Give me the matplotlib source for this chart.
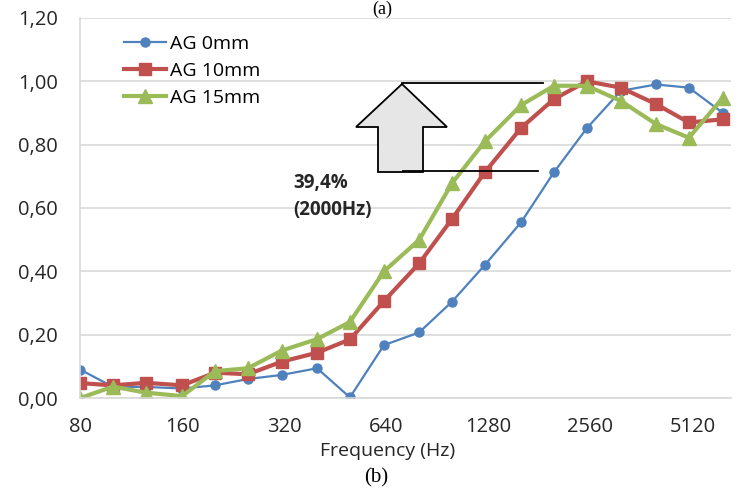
import numpy as np
import matplotlib.pyplot as plt
from matplotlib.patches import Polygon
from matplotlib.ticker import FuncFormatter, FixedLocator

# third-octave band centres (Hz)
freqs = [80, 100, 125, 160, 200, 250, 315, 400, 500, 630,
         800, 1000, 1250, 1600, 2000, 2500, 3150, 4000, 5000, 6300]

ag0 = [0.09, 0.035, 0.035, 0.03, 0.04, 0.06, 0.073, 0.094, 0.002, 0.167,
       0.207, 0.304, 0.42, 0.555, 0.713, 0.852, 0.97, 0.99, 0.98, 0.90]
ag10 = [0.047, 0.04, 0.048, 0.04, 0.08, 0.075, 0.115, 0.143, 0.185, 0.306,
        0.425, 0.565, 0.713, 0.853, 0.944, 1.00, 0.98, 0.928, 0.87, 0.88]
ag15 = [0.0, 0.036, 0.017, 0.006, 0.085, 0.094, 0.15, 0.186, 0.24, 0.40,
        0.499, 0.678, 0.81, 0.925, 0.986, 0.986, 0.938, 0.865, 0.822, 0.948]

xticks = [80, 160, 320, 640, 1280, 2560, 5120]
yticks = [0, 0.2, 0.4, 0.6, 0.8, 1.0, 1.2]

plt.rcParams['font.family'] = ['Open Sans', 'DejaVu Sans']

fig = plt.figure(figsize=(7.42, 4.94), dpi=100)
ax = fig.add_axes([0.108, 0.1943, 0.877, 0.7693])

ax.plot(freqs, ag0, color='#4f81bd', lw=1.6, marker='o', ms=6.5, label='AG 0mm')
ax.plot(freqs, ag10, color='#c0504d', lw=3, marker='s', ms=8.5, label='AG 10mm')
ax.plot(freqs, ag15, color='#9bbb59', lw=3, marker='^', ms=9.5, label='AG 15mm')

ax.set_xscale('log', base=2)
ax.set_xlim(80, 6650)
ax.set_ylim(0, 1.2)
ax.xaxis.set_major_locator(FixedLocator(xticks))
ax.xaxis.set_minor_locator(FixedLocator([]))
ax.xaxis.set_major_formatter(FuncFormatter(lambda v, p: f"{v:.0f}"))
ax.set_yticks(yticks)
ax.yaxis.set_major_formatter(FuncFormatter(lambda v, p: f"{v:.2f}".replace('.', ',')))
ax.tick_params(length=0, labelsize=14.5, colors='#262626')
ax.tick_params(axis='y', pad=16)
ax.tick_params(axis='x', pad=14)

ax.grid(axis='y', color='#d9d9d9', lw=1.2)
ax.set_axisbelow(True)
for s in ['top', 'right']:
    ax.spines[s].set_visible(False)
ax.spines['left'].set_color('#d9d9d9')
ax.spines['bottom'].set_color('#d9d9d9')
ax.spines['left'].set_linewidth(1.2)
ax.spines['bottom'].set_linewidth(1.2)

ax.set_xlabel('Frequency (Hz)', fontsize=14, color='#262626')
ax.xaxis.set_label_coords(0.473, -0.116)

leg = ax.legend(loc='upper left', bbox_to_anchor=(0.055, 0.975), frameon=False,
                fontsize=14, handlelength=2.2, handletextpad=0.2,
                labelspacing=0.45, borderaxespad=0)

# block arrow marking the gain at 2000 Hz, drawn in figure pixels
W, H = 742, 494
def fp(x, y):
    return (x / W, 1 - y / H)

arrow = [fp(378, 172), fp(423, 172), fp(423, 127), fp(447, 127),
         fp(402, 84), fp(356, 127), fp(378, 127)]
fig.patches.append(Polygon(arrow, closed=True, transform=fig.transFigure,
                           facecolor='#e6e6e6', edgecolor='black', lw=1.3))
fig.add_artist(plt.Line2D([402 / W, 543 / W], [1 - 83 / H, 1 - 83 / H],
                          color='black', lw=1.3))
fig.add_artist(plt.Line2D([403 / W, 538 / W], [1 - 171 / H, 1 - 171 / H],
                          color='black', lw=1.3))

fig.text(293 / W, 1 - 183 / H, '39,4%', fontsize=13.5, fontweight='bold',
         ha='left', va='center', color='#262626')
fig.text(293 / W, 1 - 210 / H, '(2000Hz)', fontsize=13.5, fontweight='bold',
         ha='left', va='center', color='#262626')

fig.text(382 / W, 1 - 1 / H, '(a)', fontsize=13, family='Liberation Serif',
         ha='center', va='top')
fig.text(376 / W, 1 - 478 / H, '(b)', fontsize=15, family='Liberation Serif',
         ha='center', va='center')

fig.savefig('out.png', dpi=100)
